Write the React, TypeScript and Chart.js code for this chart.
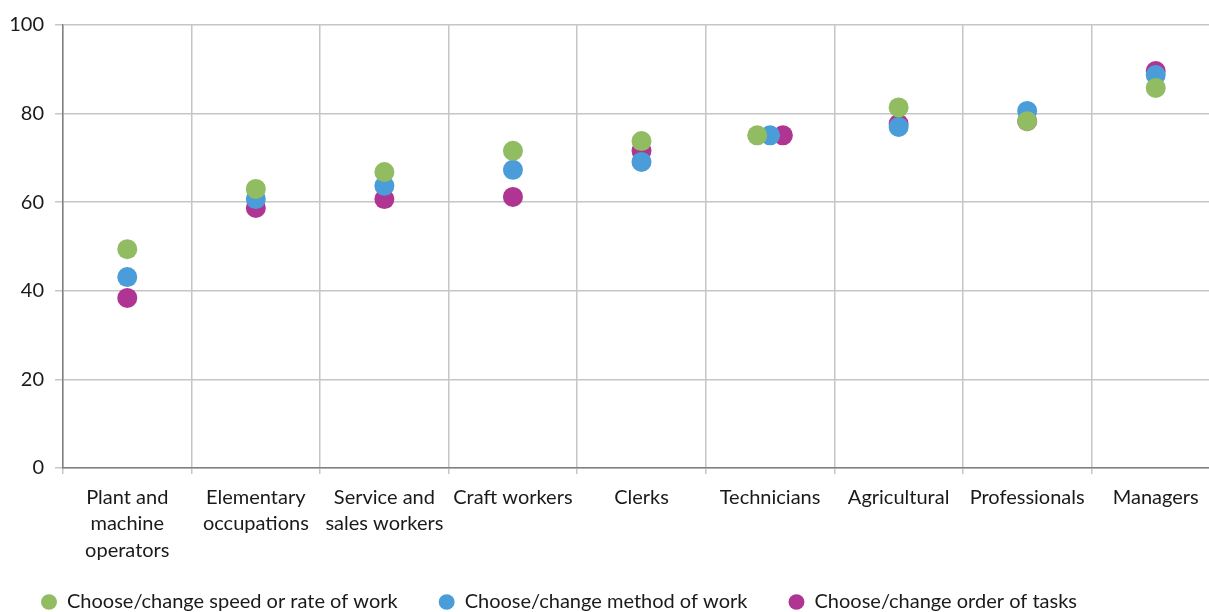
import React, { useEffect, useRef } from "react";
import { Chart, registerables } from "chart.js";

Chart.register(...registerables);

const categories: (string | string[])[] = [
  ["Plant and", "machine", "operators"],
  ["Elementary", "occupations"],
  ["Service and", "sales workers"],
  "Craft workers",
  "Clerks",
  "Technicians",
  "Agricultural",
  "Professionals",
  "Managers",
];

const speedRate = [49.4, 63.0, 66.8, 71.6, 73.8, 75.1, 81.4, 78.3, 85.8];
const method = [43.1, 60.7, 63.7, 67.3, 69.1, 75.1, 77.0, 80.6, 88.7];
const orderTasks = [38.4, 58.7, 60.7, 61.2, 71.6, 75.1, 77.7, 78.3, 89.6];

const yTicks = [0, 20, 40, 60, 80, 100];

const seriesNames = [
  "Choose/change speed or rate of work",
  "Choose/change method of work",
  "Choose/change order of tasks",
];

const COLORS = ["#92bc62", "#4a9dd8", "#b03592"];
const SPREAD = [-0.1, 0, 0.1];
const FONT = "Lato";
const CANVAS_W = 1230;
const CANVAS_H = 622;

// Let the multi-line x labels overflow into the legend's top padding
const unclipXLabels = {
  id: "unclipXLabels",
  afterLayout(chart: any) {
    const x = chart.scales.x;
    if (x) x.bottom = x.bottom + 30;
  },
};

export default function App() {
  const ref = useRef<HTMLCanvasElement | null>(null);

  useEffect(() => {
    if (!ref.current) return;
    const all = [speedRate, method, orderTasks];
    const tied = categories.map((_, i) => {
      const v = all.map((s) => s[i]);
      return Math.max(...v) - Math.min(...v) < 0.5;
    });
    const mk = (vals: number[], si: number) =>
      vals.map((y, i) => ({ x: i + (tied[i] ? SPREAD[si] : 0), y }));

    const datasets = [
      { label: seriesNames[0], data: mk(speedRate, 0), order: 0 },
      { label: seriesNames[1], data: mk(method, 1), order: 1 },
      { label: seriesNames[2], data: mk(orderTasks, 2), order: 2 },
    ].map((d, i) => ({
      ...d,
      type: "scatter" as const,
      xAxisID: "xd",
      yAxisID: "y",
      backgroundColor: COLORS[i],
      borderColor: COLORS[i],
      pointRadius: 10,
      pointHoverRadius: 10,
      borderWidth: 0,
      showLine: false,
    }));

    const chart = new Chart(ref.current, {
      type: "scatter",
      data: { labels: categories as any, datasets: datasets as any },
      plugins: [unclipXLabels],
      options: {
        animation: false,
        responsive: false,
        layout: { padding: { top: 25, right: 2, left: 0, bottom: 0 } },
        plugins: {
          tooltip: { enabled: false },
          legend: {
            position: "bottom",
            align: "start",
            labels: {
              usePointStyle: true,
              pointStyle: "circle",
              boxWidth: 16,
              boxHeight: 11,
              pointStyleWidth: 16,
              padding: 41,
              color: "#1a1a1a",
              font: { family: FONT, size: 20 },
              sort: (a: any, b: any) => a.datasetIndex - b.datasetIndex,
            },
          },
        },
        scales: {
          x: {
            type: "category",
            position: "bottom",
            offset: true,
            grid: {
              offset: true,
              color: "#c6c6c6",
              lineWidth: 1.5,
              tickLength: 6,
              drawTicks: true,
            },
            border: { color: "#808080", width: 1.5 },
            ticks: {
              color: "#1a1a1a",
              font: { family: FONT, size: 20, lineHeight: 1.33 },
              padding: 10,
              maxRotation: 0,
              autoSkip: false,
            },
            afterFit: (s: any) => {
              s.height = 83;
            },
          },
          xd: {
            type: "linear",
            display: false,
            min: -0.5,
            max: 8.5,
          },
          y: {
            type: "linear",
            min: 0,
            max: 100,
            afterBuildTicks: (s: any) => {
              s.ticks = yTicks.map((v) => ({ value: v }));
            },
            grid: { color: "#c6c6c6", lineWidth: 1.5, tickLength: 8 },
            border: { color: "#808080", width: 1.5 },
            ticks: {
              color: "#1a1a1a",
              font: { family: FONT, size: 20 },
              padding: 11,
            },
            afterFit: (s: any) => {
              s.width = 63;
            },
          },
        },
      } as any,
    });
    return () => chart.destroy();
  }, []);

  return (
    <div
      style={{
        position: "fixed",
        left: 0,
        top: 0,
        width: 1209,
        height: 612,
        overflow: "hidden",
        background: "#fff",
      }}
    >
      <canvas
        ref={ref}
        width={CANVAS_W}
        height={CANVAS_H}
        style={{ width: CANVAS_W, height: CANVAS_H, display: "block" }}
      />
    </div>
  );
}
